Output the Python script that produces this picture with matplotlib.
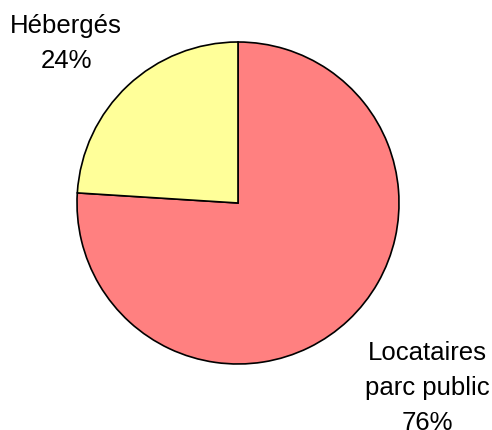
import matplotlib
matplotlib.use("Agg")
import matplotlib.pyplot as plt

categories = ["Locataires\nparc public", "Hébergés"]
values = [76, 24]
colors = ["#FF8080", "#FFFF99"]

W, H = 492, 430
fig = plt.figure(figsize=(W / 100, H / 100), dpi=100)
ax = fig.add_axes([0, 0, 1, 1])
ax.set_xlim(0, W)
ax.set_ylim(0, H)
ax.set_aspect("equal")
ax.axis("off")

ax.pie(values, colors=colors, startangle=90, counterclock=False,
       center=(238, H - 203), radius=161,
       wedgeprops=dict(edgecolor="black", linewidth=1.2))
ax.set_xlim(0, W)
ax.set_ylim(0, H)

label_pos = [(427, H - 388), (66, H - 43.5)]
for cat, v, (x, y) in zip(categories, values, label_pos):
    ax.text(x, y, f"{cat}\n{v}%", ha="center", va="center",
            fontsize=18.5, family="Liberation Sans", linespacing=1.58,
            color="black")

fig.savefig("out.png", dpi=100)
